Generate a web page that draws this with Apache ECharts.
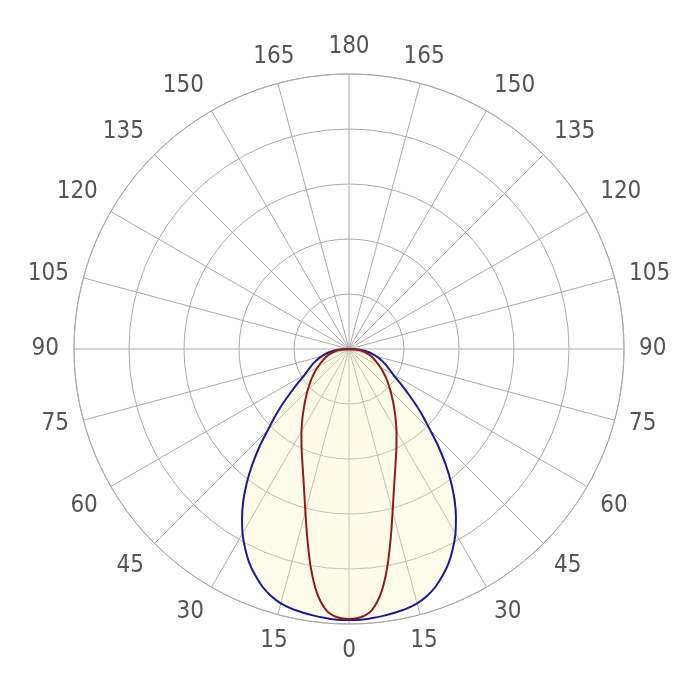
<!DOCTYPE html>
<html>
<head>
<meta charset="utf-8">
<script src="https://cdn.jsdelivr.net/npm/echarts@6/dist/echarts.min.js"></script>
<style>
  html, body { margin: 0; padding: 0; background: #fff; }
  #chart { width: 700px; height: 700px; }
</style>
</head>
<body>
<div id="chart"></div>
<script>
// gamma angles (deg from nadir), one half of the symmetric curve
const gammaAngles = [0, 2.5, 5, 7.5, 10, 12.5, 15, 17.5, 20, 22.5, 25, 27.5, 30, 32.5, 35, 37.5, 40, 42.5, 45,
  47.5, 50, 52.5, 55, 57.5, 60, 62.5, 65, 67.5, 70, 72.5, 75, 77.5, 80, 82.5, 85, 87.5, 90]
// wide curve (blue)
const blueValues = [246.4, 246.4, 245.5, 244.5, 243.2, 241.8, 239.5, 235.5, 230, 222.7, 214.5, 204.5, 193.6,
  180.9, 167.3, 152.3, 136.4, 120.5, 104.5, 91.8, 80, 69.1, 60, 52.3, 46.4, 42.3, 38.6, 35.5, 32.3, 29.1,
  25.9, 22.7, 19.5, 15.5, 10.9, 5.5, 0]
// narrow curve (red)
const redValues = [245.5, 244.1, 238.2, 223.6, 200.9, 175.5, 153.2, 135.5, 121.8, 110.9, 101.8, 93.6, 86.4,
  79.5, 73.2, 67.3, 62.3, 57.3, 53.2, 49.1, 45.5, 42.1, 38.8, 35.7, 32.7, 30, 27.3, 25, 22.7, 20.5, 18.2,
  15.9, 13.6, 10.9, 7.7, 4.1, 0]

const chart = echarts.init(document.getElementById('chart'))

// mirror the half curve: -90 .. 0 .. 90
function mirror(values) {
  const out = []
  for (let i = gammaAngles.length - 1; i > 0; i--) {
    out.push([values[i], -gammaAngles[i]])
  }
  for (let i = 0; i < gammaAngles.length; i++) {
    out.push([values[i], gammaAngles[i]])
  }
  return out
}

const gridColor = '#ababab'

const option = {
  animation: false,
  backgroundColor: '#fff',
  polar: {
    center: [349, 349],
    radius: 275
  },
  angleAxis: {
    type: 'value',
    min: -180,
    max: 180,
    interval: 15,
    startAngle: 90,
    clockwise: true,
    axisLine: { show: true, lineStyle: { color: gridColor, width: 1 } },
    axisTick: { show: false },
    splitLine: { show: true, lineStyle: { color: gridColor, width: 1 } },
    axisLabel: {
      margin: 15,
      align: 'center',
      verticalAlign: 'middle',
      color: '#555',
      fontSize: 24,
      fontFamily: "'Liberation Sans Narrow', 'DejaVu Sans Condensed', Roboto, sans-serif",
      formatter: function (v) {
        if (v === 180) return ''
        return String(Math.abs(v))
      }
    }
  },
  radiusAxis: {
    type: 'value',
    min: 0,
    max: 250,
    interval: 50,
    axisLine: { show: false },
    axisTick: { show: false },
    axisLabel: { show: false },
    splitLine: { show: true, lineStyle: { color: gridColor, width: 1 } }
  },
  series: [
    {
      type: 'line',
      coordinateSystem: 'polar',
      data: mirror(blueValues),
      smooth: 0.25,
      symbol: 'none',
      lineStyle: { color: '#1c1c8a', width: 2 },
      areaStyle: { color: 'rgba(255,246,185,0.4)' },
      z: 2
    },
    {
      type: 'line',
      coordinateSystem: 'polar',
      data: mirror(redValues),
      smooth: 0.25,
      symbol: 'none',
      lineStyle: { color: '#8e1b1b', width: 2 },
      areaStyle: { color: 'rgba(255,240,170,0.12)' },
      z: 3
    }
  ]
}

chart.setOption(option)
</script>
</body>
</html>
